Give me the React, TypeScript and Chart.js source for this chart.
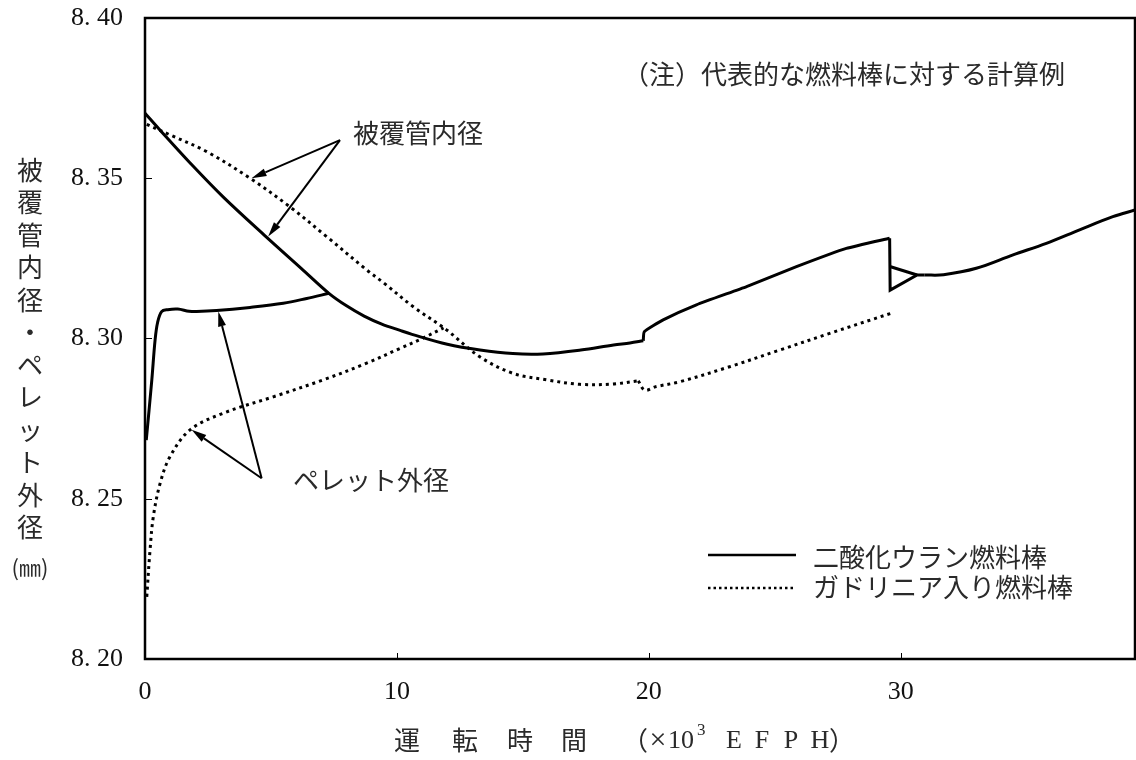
import React, { useEffect, useRef } from "react";
import { Chart, registerables } from "chart.js";

Chart.register(...registerables);

// ---------- axis ticks ----------
const xTickValues = [0, 10, 20, 30];
const yTickValues = [8.2, 8.25, 8.3, 8.35, 8.4];
const xMin = 0;
const xMax = 39.3;
const yMin = 8.2;
const yMax = 8.4;

// ---------- 二酸化ウラン燃料棒 : 被覆管内径 (solid) ----------
const uo2CladAx = [0, 0.6, 1.8, 3.1, 4.8, 6.2, 7.3, 8.0, 8.7, 9.4, 10.1, 10.6, 12.0, 13.3, 14.6, 15.8, 17.3, 18.6, 19.25, 19.78];
const uo2CladAy = [8.3703, 8.365, 8.3547, 8.3442, 8.3318, 8.3219, 8.3141, 8.3102, 8.307, 8.3045, 8.3026, 8.3013, 8.2982, 8.2964, 8.2953, 8.2952, 8.2964, 8.298, 8.2986, 8.2993];
const uo2CladBx = [19.78, 19.82, 20.57, 21.89, 23.88, 25.86, 27.84, 29.56];
const uo2CladBy = [8.2993, 8.3021, 8.3058, 8.3105, 8.3162, 8.3224, 8.3281, 8.3313];
const uo2CladCx = [29.56, 29.58, 30.65, 30.95];
const uo2CladCy = [8.3313, 8.3151, 8.3198, 8.3198];
const uo2CladBranchX = [29.6, 30.65];
const uo2CladBranchY = [8.3224, 8.3198];
const uo2CladDx = [30.95, 31.7, 33.0, 34.46, 35.78, 37.1, 38.42, 39.3];
const uo2CladDy = [8.3198, 8.3199, 8.3219, 8.3261, 8.3297, 8.3339, 8.338, 8.3401];

// ---------- 二酸化ウラン燃料棒 : ペレット外径 (solid) ----------
const uo2PelletX = [0.05, 0.27, 0.4, 0.5, 0.66, 0.9, 1.3, 1.75, 2.05, 2.84, 4.17, 5.49, 6.42, 7.3];
const uo2PelletY = [8.2683, 8.287, 8.2995, 8.305, 8.3084, 8.309, 8.3092, 8.3085, 8.3084, 8.3087, 8.3097, 8.311, 8.3125, 8.3141];

// ---------- ガドリニア入り燃料棒 : 被覆管内径 (dotted) ----------
const gdCladAx = [0.07, 1.0, 2.45, 4.17, 5.75, 7.21, 8.8, 9.5, 10.65, 11.97, 13.29, 14.62, 15.94, 17.26, 18.58, 19.58];
const gdCladAy = [8.3668, 8.3635, 8.3583, 8.35, 8.3411, 8.3318, 8.3214, 8.3172, 8.3099, 8.3027, 8.2943, 8.2891, 8.2871, 8.2857, 8.2858, 8.2868];
const gdCladBx = [19.58, 19.84, 20.3, 21.23, 23.21, 25.2, 27.18, 29.63];
const gdCladBy = [8.2868, 8.2839, 8.285, 8.2865, 8.2912, 8.2964, 8.3016, 8.3079];

// ---------- ガドリニア入り燃料棒 : ペレット外径 (dotted) ----------
const gdPelletX = [0.07, 0.2, 0.33, 0.6, 0.99, 1.79, 3.11, 5.09, 7.08, 8.8, 10.12, 11.0, 11.85];
const gdPelletY = [8.2194, 8.234, 8.2444, 8.2548, 8.2631, 8.2715, 8.2767, 8.2818, 8.2871, 8.2923, 8.2969, 8.3, 8.3033];

// ---------- annotation arrows (data units) ----------
const cladArrowFrom = { x: 7.74, y: 8.3619 };
const cladArrowTips = [
  { x: 4.23, y: 8.35 },
  { x: 4.89, y: 8.3318 },
];
const pelletArrowFrom = { x: 4.63, y: 8.2564 };
const pelletArrowTips = [
  { x: 2.91, y: 8.3084 },
  { x: 1.85, y: 8.2715 },
];

// ---------- texts ----------
const noteText = "（注）代表的な燃料棒に対する計算例";
const cladLabel = "被覆管内径";
const pelletLabel = "ペレット外径";
const legendSolid = "二酸化ウラン燃料棒";
const legendDotted = "ガドリニア入り燃料棒";
const yTitleChars = ["被", "覆", "管", "内", "径", "・", "ペ", "レ", "ッ", "ト", "外", "径"];
const yTitleUnit = "(㎜)";
const xTitleChars = ["運", "転", "時", "間"];

const JP = "'Noto Sans CJK JP', 'Noto Sans CJK SC', sans-serif";
const SERIF = "'Liberation Serif', 'DejaVu Serif', serif";

const pts = (xs: number[], ys: number[]) => xs.map((x, i) => ({ x, y: ys[i] }));

const solidStyle = {
  borderColor: "#000",
  borderWidth: 3,
  pointRadius: 0,
  fill: false,
  showLine: true,
  borderCapStyle: "butt" as const,
  borderJoinStyle: "miter" as const,
};
const dottedStyle = {
  ...solidStyle,
  borderWidth: 3,
  borderDash: [3, 4],
};
const smooth = { tension: 0.35 };
const gentle = { tension: 0.15 };
const straight = { tension: 0 };

function drawArrow(ctx: CanvasRenderingContext2D, x0: number, y0: number, x1: number, y1: number) {
  const ang = Math.atan2(y1 - y0, x1 - x0);
  const headLen = 15;
  const headHalf = 4;
  const bx = x1 - headLen * Math.cos(ang);
  const by = y1 - headLen * Math.sin(ang);
  ctx.beginPath();
  ctx.moveTo(x0, y0);
  ctx.lineTo(bx, by);
  ctx.stroke();
  ctx.beginPath();
  ctx.moveTo(x1, y1);
  ctx.lineTo(bx + headHalf * Math.sin(ang), by - headHalf * Math.cos(ang));
  ctx.lineTo(bx - headHalf * Math.sin(ang), by + headHalf * Math.cos(ang));
  ctx.closePath();
  ctx.fill();
}

const decorPlugin = {
  id: "decor",
  afterDatasetsDraw(chart: any) {
    const ctx: CanvasRenderingContext2D = chart.ctx;
    const { left, right, top, bottom } = chart.chartArea;
    const xs = chart.scales.x;
    const ys = chart.scales.y;
    ctx.save();

    // frame
    ctx.strokeStyle = "#000";
    ctx.lineWidth = 2.5;
    ctx.strokeRect(left, top, right - left, bottom - top);

    // inward tick marks
    ctx.lineWidth = 1;
    yTickValues.forEach((v) => {
      if (v <= yMin || v >= yMax) return;
      const py = Math.round(ys.getPixelForValue(v)) + 0.5;
      ctx.beginPath();
      ctx.moveTo(left, py);
      ctx.lineTo(left + 7, py);
      ctx.stroke();
    });
    xTickValues.forEach((v) => {
      if (v <= xMin) return;
      const px = Math.round(xs.getPixelForValue(v)) + 0.5;
      ctx.beginPath();
      ctx.moveTo(px, bottom);
      ctx.lineTo(px, bottom - 6);
      ctx.stroke();
    });

    // arrows
    ctx.lineWidth = 2;
    ctx.fillStyle = "#000";
    const P = (p: { x: number; y: number }) => [xs.getPixelForValue(p.x), ys.getPixelForValue(p.y)];
    const [cx0, cy0] = P(cladArrowFrom);
    cladArrowTips.forEach((t) => {
      const [tx, ty] = P(t);
      drawArrow(ctx, cx0, cy0, tx, ty);
    });
    const [px0, py0] = P(pelletArrowFrom);
    pelletArrowTips.forEach((t) => {
      const [tx, ty] = P(t);
      drawArrow(ctx, px0, py0, tx, ty);
    });

    // in-plot texts
    ctx.fillStyle = "#2a2a2a";
    ctx.textBaseline = "middle";
    ctx.textAlign = "left";
    ctx.font = `26px ${JP}`;
    ctx.fillText(noteText, 623, 74);
    ctx.fillText(cladLabel, 353, 133);
    ctx.fillText(pelletLabel, 293, 480);

    // legend
    ctx.strokeStyle = "#000";
    ctx.lineWidth = 2.5;
    ctx.beginPath();
    ctx.moveTo(708, 555);
    ctx.lineTo(796, 555);
    ctx.stroke();
    ctx.setLineDash([2.5, 3]);
    ctx.beginPath();
    ctx.moveTo(708, 588);
    ctx.lineTo(796, 588);
    ctx.stroke();
    ctx.setLineDash([]);
    ctx.fillText(legendSolid, 813, 557);
    ctx.fillText(legendDotted, 813, 587);

    // y-axis title (vertical)
    ctx.textAlign = "center";
    ctx.font = `26px ${JP}`;
    yTitleChars.forEach((ch, i) => {
      ctx.fillText(ch, 30, 170 + i * 32.5);
    });
    ctx.font = `22px ${JP}`;
    ctx.fillText(yTitleUnit, 30, 568);

    // x-axis title
    ctx.font = `26px ${JP}`;
    const xCenters = [407, 465, 520, 574];
    xTitleChars.forEach((ch, i) => ctx.fillText(ch, xCenters[i], 740));
    ctx.textAlign = "left";
    ctx.fillText("（", 622, 740);
    ctx.font = `30px ${SERIF}`;
    ctx.textAlign = "center";
    ctx.fillText("×", 658, 741);
    ctx.font = `26px ${SERIF}`;
    ctx.textAlign = "left";
    ctx.fillText("10", 668, 741);
    ctx.font = `17px ${SERIF}`;
    ctx.fillText("3", 697, 731);
    ctx.font = `26px ${SERIF}`;
    ctx.textAlign = "center";
    [["E", 734], ["F", 762], ["P", 791], ["H", 820]].forEach(([t, x]) => ctx.fillText(t as string, x as number, 741));
    ctx.font = `26px ${JP}`;
    ctx.textAlign = "left";
    ctx.fillText("）", 829, 740);

    ctx.restore();
  },
};

export default function App() {
  const ref = useRef<HTMLCanvasElement | null>(null);
  useEffect(() => {
    if (!ref.current) return;
    const chart = new Chart(ref.current, {
      type: "scatter",
      data: {
        datasets: [
          { label: "二酸化ウラン燃料棒", data: pts(uo2CladAx, uo2CladAy), ...solidStyle, ...smooth },
          { label: "uo2CladB", data: pts(uo2CladBx, uo2CladBy), ...solidStyle, ...gentle },
          { label: "uo2CladC", data: pts(uo2CladCx, uo2CladCy), ...solidStyle, ...straight },
          { label: "uo2CladBranch", data: pts(uo2CladBranchX, uo2CladBranchY), ...solidStyle, ...straight },
          { label: "uo2CladD", data: pts(uo2CladDx, uo2CladDy), ...solidStyle, ...smooth },
          { label: "uo2Pellet", data: pts(uo2PelletX, uo2PelletY), ...solidStyle, ...smooth },
          { label: "ガドリニア入り燃料棒", data: pts(gdCladAx, gdCladAy), ...dottedStyle, ...smooth },
          { label: "gdCladB", data: pts(gdCladBx, gdCladBy), ...dottedStyle, ...smooth },
          { label: "gdPellet", data: pts(gdPelletX, gdPelletY), ...dottedStyle, ...smooth },
        ] as any,
      },
      options: {
        responsive: false,
        animation: false,
        events: [],
        layout: { padding: { top: 18, right: 1, left: 0, bottom: 0 } },
        plugins: { legend: { display: false }, tooltip: { enabled: false } },
        scales: {
          x: {
            type: "linear",
            min: xMin,
            max: xMax,
            afterFit: (s: any) => {
              s.height = 101;
              s.paddingLeft = 0;
              s.paddingRight = 0;
            },
            grid: { display: false },
            border: { display: false },
            ticks: {
              stepSize: 10,
              includeBounds: false,
              autoSkip: false,
              maxRotation: 0,
              padding: 10,
              color: "#111",
              font: { family: SERIF, size: 26 },
              callback: (v: any) => (xTickValues.includes(Number(v)) ? String(v) : ""),
            },
          },
          y: {
            type: "linear",
            min: yMin,
            max: yMax,
            afterFit: (s: any) => {
              s.width = 145;
              s.paddingTop = 0;
              s.paddingBottom = 0;
            },
            grid: { display: false },
            border: { display: false },
            ticks: {
              stepSize: 0.05,
              autoSkip: false,
              padding: 14,
              color: "#111",
              font: { family: SERIF, size: 26 },
              callback: (v: any) => Number(v).toFixed(2).replace(".", ". "),
            },
          },
        },
      } as any,
      plugins: [decorPlugin],
    });
    return () => chart.destroy();
  }, []);

  return (
    <div style={{ position: "fixed", left: 0, top: 0, width: 1136, height: 760, background: "#fff" }}>
      <canvas ref={ref} width={1136} height={760} style={{ display: "block" }} />
    </div>
  );
}
